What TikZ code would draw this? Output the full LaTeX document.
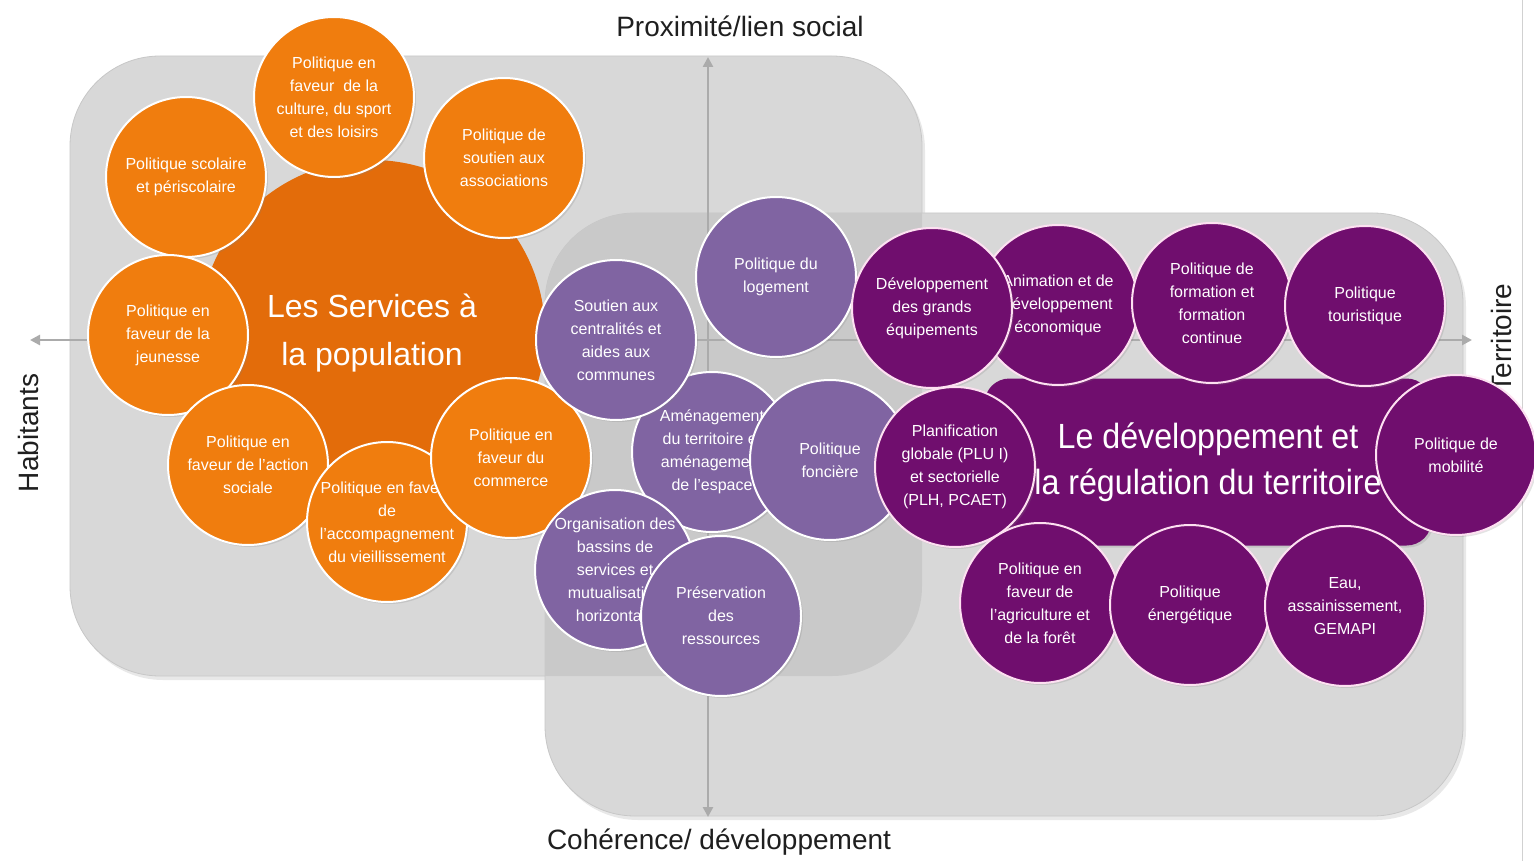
\documentclass[tikz,border=0pt]{standalone}
\usepackage{fontspec}
\setmainfont{Liberation Sans}
\newfontfamily\titlefont{Liberation Sans}[FakeStretch=0.92]
\usetikzlibrary{arrows.meta,shadows}

\definecolor{orangebig}{RGB}{227,108,10}
\definecolor{orangesmall}{RGB}{240,125,14}
\definecolor{lavender}{RGB}{128,100,162}
\definecolor{plum}{RGB}{112,14,110}
\definecolor{panelgray}{RGB}{216,216,216}

\begin{document}
\begin{tikzpicture}[x=1pt, y=-1pt,
  panel/.style={fill=panelgray, draw=black!22, line width=0.8pt, rounded corners=90pt},
  panelshade/.style={drop shadow={shadow xshift=3pt, shadow yshift=-4pt, opacity=0.18}},
  axisline/.style={{Triangle[length=10pt,width=10pt]}-{Triangle[length=10pt,width=10pt]}, line width=2.6pt, draw=black!33},
  axislabel/.style={inner sep=0pt, text=black!88, font=\fontsize{28}{32}\selectfont},
  bubble/.style={circle, minimum size=160pt, inner sep=0pt, draw=white, line width=2pt,
    text=white, align=center, font=\fontsize{16}{23}\selectfont,
    drop shadow={shadow xshift=2pt, shadow yshift=-2pt, opacity=0.22}},
  servbub/.style={bubble, fill=orangesmall},
  linkbub/.style={bubble, fill=lavender},
  terrbub/.style={bubble, fill=plum, draw=white!88!magenta},
]

\useasboundingbox (0,0) rectangle (1534,861);

% Two overlapping panels, darker where they meet
\path[panel, panelshade] (70,56) rectangle (922,676);
\path[panel, panelshade] (545,213) rectangle (1463,816);
\begin{scope}
  \clip[rounded corners=90pt] (70,56) rectangle (922,676);
  \fill[black!21, rounded corners=90pt] (545,213) rectangle (1463,816);
\end{scope}
\draw[black!18, line width=0.8pt] (1522,0) -- (1522,861);

% Axes
\coordinate (up) at (708,57);
\coordinate (down) at (708,817);
\coordinate (left) at (30,340);
\coordinate (right) at (1472,340);
\draw[axisline] (left) -- (right);
\draw[axisline] (up) -- (down);

\node[axislabel] (prox) at (740,26) {Proximité/lien social};
\node[axislabel] (coh) at (719,842) {Cohérence/ développement};
\node[axislabel, rotate=90] (hab) at (28,433) {Habitants};
\node[axislabel, rotate=90] (terr) at (1501,338) {Territoire};

% Services a la population
\node[circle, minimum size=346pt, inner sep=0pt, fill=orangebig, text=white, align=center,
  font=\fontsize{32}{48}\selectfont] (services) at (372,333) {Les Services à\\la population};
\node[servbub] (culture) at (334,97) {Politique en\\faveur \ de la\\culture, du sport\\et des loisirs};
\node[servbub] (assoc) at (504,158) {Politique de\\soutien aux\\associations};
\node[servbub] (scolaire) at (186,177) {Politique scolaire\\et périscolaire};
\node[servbub] (jeunesse) at (168,335) {Politique en\\faveur de la\\jeunesse};
\node[servbub] (social) at (248,465) {Politique en\\faveur de l'action\\sociale};
\node[servbub] (vieil) at (387,522) {Politique en faveur\\de\\l'accompagnement\\du vieillissement};
\node[servbub] (commerce) at (511,458) {Politique en\\faveur du\\commerce};

% Politiques a l'interface
\node[linkbub] (amenag) at (712,452) {Aménagement\\du territoire et\\aménagement\\de l'espace};
\node[linkbub] (soutien) at (616,340) {Soutien aux\\centralités et\\aides aux\\communes};
\node[linkbub] (logement) at (776,277) {Politique du\\logement};
\node[linkbub] (fonciere) at (830,460) {Politique\\foncière};
\node[linkbub] (bassins) at (615,570) {Organisation des\\bassins de\\services et\\mutualisation\\horizontale};
\node[linkbub] (preserv) at (721,616) {Préservation\\des\\ressources};

% Developpement et regulation du territoire
\node[rectangle, rounded corners=25pt, minimum width=447pt, minimum height=167pt, fill=plum,
  text=white, align=center, font=\titlefont\fontsize{35}{46}\selectfont,
  drop shadow={shadow xshift=2pt, shadow yshift=-2pt, opacity=0.22}]
  (devreg) at (1208,462) {Le développement et\\la régulation du territoire};
\node[terrbub] (animation) at (1058,305) {Animation et de\\développement\\économique};
\node[terrbub] (equip) at (932,308) {Développement\\des grands\\équipements};
\node[terrbub] (formation) at (1212,303) {Politique de\\formation et\\formation\\continue};
\node[terrbub] (tourisme) at (1365,306) {Politique\\touristique};
\node[terrbub] (planif) at (955,467) {Planification\\globale (PLU I)\\et sectorielle\\(PLH, PCAET)};
\node[terrbub] (mobilite) at (1456,455) {Politique de\\mobilité};
\node[terrbub] (agri) at (1040,603) {Politique en\\faveur de\\l'agriculture et\\de la forêt};
\node[terrbub] (energie) at (1190,605) {Politique\\énergétique};
\node[terrbub] (eau) at (1345,606) {Eau,\\assainissement,\\GEMAPI};

\end{tikzpicture}
\end{document}
